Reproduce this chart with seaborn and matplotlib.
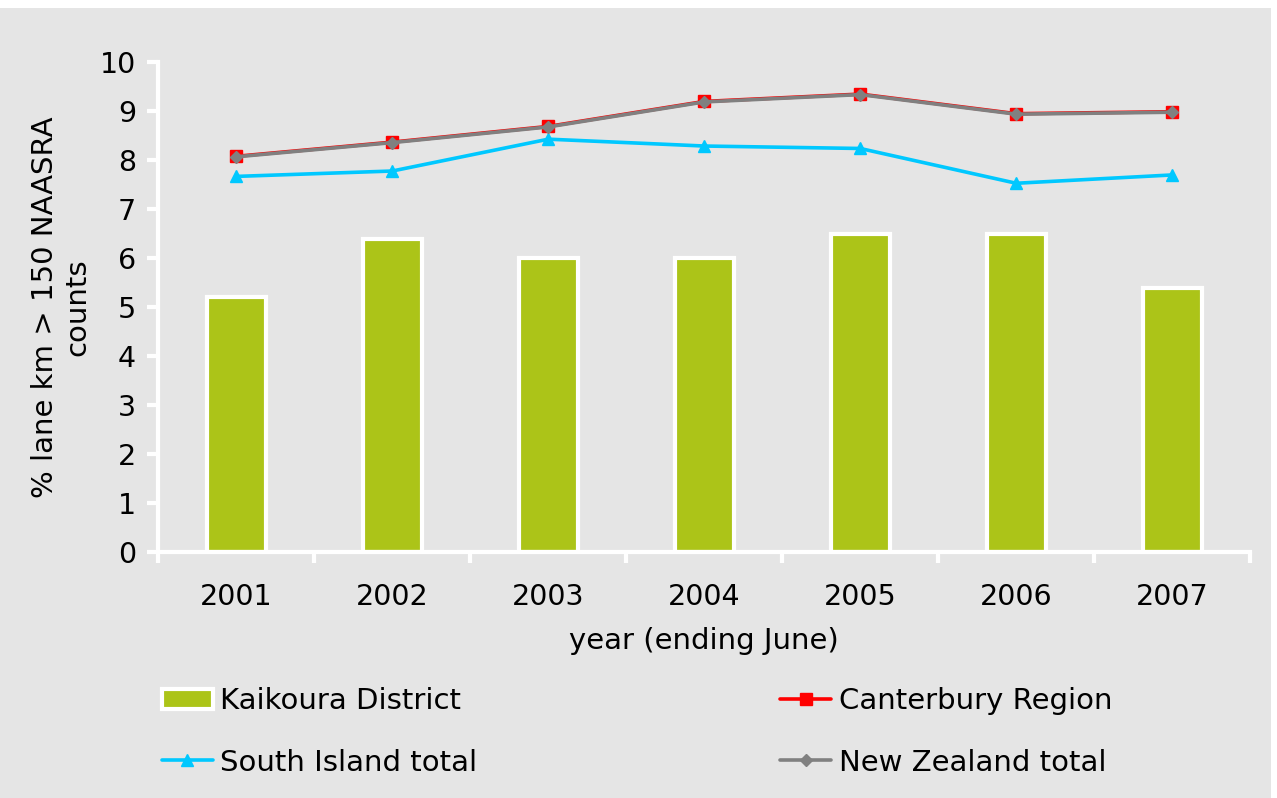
import pandas as pd
import matplotlib.pyplot as plt
import seaborn as sns
from matplotlib.patches import Rectangle

years = ["2001", "2002", "2003", "2004", "2005", "2006", "2007"]
kaikoura = [5.2, 6.4, 6.0, 6.0, 6.5, 6.5, 5.4]
canterbury = [8.08, 8.37, 8.69, 9.2, 9.35, 8.95, 8.99]
south_island = [7.67, 7.78, 8.43, 8.29, 8.24, 7.53, 7.7]
new_zealand = [8.07, 8.36, 8.68, 9.19, 9.34, 8.94, 8.98]

BG = "#e5e5e5"
FS = 21

sns.set_theme(style="white")
plt.rcParams['font.family'] = ['DejaVu Sans']
plt.rcParams['text.color'] = 'black'
plt.rcParams['axes.labelcolor'] = 'black'
plt.rcParams['xtick.labelcolor'] = 'black'
plt.rcParams['ytick.labelcolor'] = 'black'

fig = plt.figure(figsize=(12.77, 7.98), dpi=100)
fig.patch.set_facecolor(BG)
ax = fig.add_axes([0.124, 0.308, 0.855, 0.614])
ax.set_facecolor(BG)

df = pd.DataFrame({"year": years, "value": kaikoura})
sns.barplot(data=df, x="year", y="value", color="#acc418", width=0.38,
            edgecolor="white", linewidth=3, saturation=1, ax=ax,
            label="Kaikoura District", legend=False)

pos = list(range(len(years)))
ax.plot(pos, canterbury, color="red", marker="s", markersize=8, lw=2.6,
        label="Canterbury Region")
ax.plot(pos, south_island, color="#00c8ff", marker="^", markersize=9, lw=2.6,
        label="South Island total")
ax.plot(pos, new_zealand, color="#808080", marker="D", markersize=6.5, lw=2.6,
        label="New Zealand total")
if ax.get_legend() is not None:
    ax.get_legend().remove()

ax.set_ylim(0, 10)
ax.set_xlim(-0.5, len(years) - 0.5)
ax.set_yticks(range(0, 11))
ax.set_xticks([p - 0.5 for p in pos] + [len(years) - 0.5], minor=False)
ax.set_xticklabels([])
ax.set_xticks(pos, minor=True)
ax.set_xticklabels(years, minor=True)
ax.tick_params(axis="x", which="major", direction="out", length=8, width=3,
               color="white", bottom=True)
ax.tick_params(axis="x", which="minor", length=0, labelsize=FS - 0.5, pad=22)
ax.tick_params(axis="y", direction="out", length=8, width=3, color="white",
               left=True, labelsize=FS - 0.5, pad=8)

for side in ["top", "right"]:
    ax.spines[side].set_visible(False)
for side in ["left", "bottom"]:
    ax.spines[side].set_color("white")
    ax.spines[side].set_linewidth(3)

ax.set_xlabel("year (ending June)", fontsize=FS, labelpad=12)
ax.set_ylabel("% lane km > 150 NAASRA\ncounts", fontsize=FS, labelpad=6,
              linespacing=1.2)

handles, labels = ax.get_legend_handles_labels()
order = [labels.index(n) for n in ["Kaikoura District", "South Island total",
                                   "Canterbury Region", "New Zealand total"]]
leg = fig.legend([handles[i] for i in order], [labels[i] for i in order],
                 ncol=2, loc="upper left", bbox_to_anchor=(0.106, 0.172),
                 frameon=False, fontsize=FS, columnspacing=10.4,
                 handlelength=1.75, handletextpad=0.25, labelspacing=1.15)

fig.add_artist(Rectangle((0, 0.99), 1, 0.01, transform=fig.transFigure,
                         facecolor="white", edgecolor="none"))
fig.add_artist(Rectangle((0.995, 0), 0.005, 1, transform=fig.transFigure,
                         facecolor="white", edgecolor="none"))

fig.savefig("out.png", dpi=100, facecolor=fig.get_facecolor())
